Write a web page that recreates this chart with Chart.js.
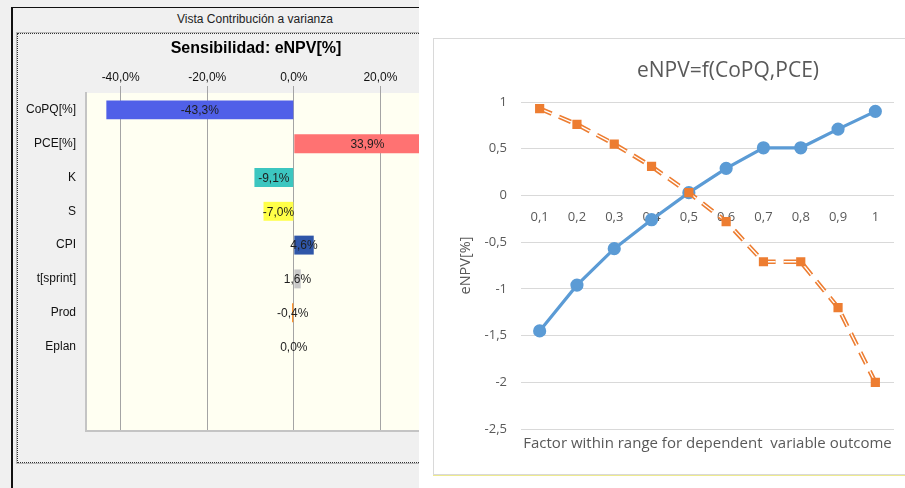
<!DOCTYPE html>
<html lang="es">
<head>
<meta charset="utf-8">
<title>Sensibilidad eNPV</title>
<script src="https://cdn.jsdelivr.net/npm/chart.js@4.4.1/dist/chart.umd.min.js"></script>
<style>
    html, body { margin: 0; padding: 0; background: #fff; }
    .page { position: relative; width: 905px; height: 488px; overflow: hidden; }

    /* Panneau gauche : capture de la fenêtre "Vista Contribución a varianza" */
    .panel-left { position: absolute; left: 0; top: 0; width: 419px; height: 488px; background: #f0f0f0; overflow: hidden; }
    .win-frame { position: absolute; left: 11px; top: 7px; width: 500px; height: 500px; border-left: 2px solid #111; border-top: 1px solid #111; }
    .dotted-frame { position: absolute; left: 17px; top: 33px; width: 500px; height: 428px; border: 1px dotted #333; box-shadow: 0 0 0 1px #b8b8b8; }
    .win-title { position: absolute; left: 0; width: 510px; top: 12px; text-align: center; font: 12px "Liberation Sans", Arial, sans-serif; color: #222; }
    .sens-title { position: absolute; left: 0; width: 512px; top: 39px; line-height: 18px; text-align: center; font: bold 16px "Liberation Sans", Arial, sans-serif; color: #000; }
    #tornadoChart { position: absolute; left: 0; top: 0; }

    /* Panneau droit : graphique Excel */
    .panel-right { position: absolute; left: 433px; top: 38px; width: 480px; height: 435px; background: #fff; border: 1px solid #d9d9d9; }
    .panel-right-line { position: absolute; left: 433px; top: 475px; width: 472px; height: 1px; background: #eeea90; }
    .line-title { position: absolute; left: 0; width: 588px; top: 16px; line-height: 26px; text-align: center; font: 21px "Open Sans", sans-serif; color: #595959; }
    #lineChart { position: absolute; left: 0; top: 0; }
</style>
</head>
<body>
<div class="page">
    <div class="panel-left">
        <div class="win-frame"></div>
        <div class="dotted-frame"></div>
        <div class="win-title">Vista Contribución a varianza</div>
        <canvas id="tornadoChart" width="520" height="488"></canvas>
        <div class="sens-title">Sensibilidad: eNPV[%]</div>
    </div>
    <div class="panel-right">
        <canvas id="lineChart" width="471" height="435"></canvas>
        <div class="line-title">eNPV=f(CoPQ,PCE)</div>
    </div>
    <div class="panel-right-line"></div>
</div>

<script>
// ==== DONNÉES ====

// Tornado "Sensibilidad: eNPV[%]"
const tornadoLabels = ['CoPQ[%]', 'PCE[%]', 'K', 'S', 'CPI', 't[sprint]', 'Prod', 'Eplan', '', ''];
const tornadoValues = [-43.3, 33.9, -9.1, -7.0, 4.6, 1.6, -0.4, 0.0, null, null];
const tornadoTicks = [-40, -20, 0, 20, 40];

// Courbes eNPV=f(CoPQ,PCE)
const factorLabels = ['0,1', '0,2', '0,3', '0,4', '0,5', '0,6', '0,7', '0,8', '0,9', '1'];
const copqValues = [-1.45, -0.96, -0.57, -0.26, 0.03, 0.29, 0.51, 0.51, 0.71, 0.90];
const pceValues = [0.93, 0.76, 0.55, 0.31, 0.03, -0.28, -0.71, -0.71, -1.20, -2.00];

// ==== FONCTIONS ====

function formatPct(v) {
    return v.toFixed(1).replace('.', ',') + '%';
}

// Fond de la zone de tracé (+ bordure basse optionnelle)
const plotBackground = {
    id: 'plotBackground',
    beforeDraw(chart, args, opts) {
        const { ctx, chartArea: a } = chart;
        ctx.save();
        ctx.fillStyle = opts.color;
        ctx.fillRect(a.left, a.top, a.right - a.left, a.bottom - a.top);
        ctx.restore();
    },
    beforeDatasetsDraw(chart, args, opts) {
        if (!opts.bottomLine) return;
        const { ctx, chartArea: a } = chart;
        ctx.save();
        ctx.strokeStyle = opts.bottomLine;
        ctx.lineWidth = 2;
        ctx.beginPath();
        ctx.moveTo(a.left - 1, a.bottom);
        ctx.lineTo(a.right, a.bottom);
        ctx.stroke();
        ctx.restore();
    }
};

// Étiquettes au centre de chaque barre
const barLabels = {
    id: 'barLabels',
    afterDatasetsDraw(chart) {
        const { ctx } = chart;
        const meta = chart.getDatasetMeta(0);
        ctx.save();
        ctx.font = '12px "Liberation Sans", Arial, sans-serif';
        ctx.fillStyle = '#1e1e1e';
        ctx.textAlign = 'center';
        ctx.textBaseline = 'middle';
        meta.data.forEach((bar, i) => {
            const v = tornadoValues[i];
            if (v === null) return;
            const { x, y, base } = bar.getProps(['x', 'y', 'base'], true);
            ctx.fillText(formatPct(v), (x + base) / 2, y + 1);
        });
        ctx.restore();
    }
};

function initTornadoChart() {
    const barColors = ['#5060e8', '#ff7272', '#3cc6c0', '#ffff48', '#2f56a8', '#c8c8c8', '#ff8a1c', '#888888', '#ffffff', '#ffffff'];
    const tickFont = { family: '"Liberation Sans", Arial, sans-serif', size: 12 };

    new Chart(document.getElementById('tornadoChart'), {
        type: 'bar',
        data: {
            labels: tornadoLabels,
            datasets: [{
                data: tornadoValues,
                backgroundColor: barColors,
                borderWidth: 0,
                barPercentage: 0.56,
                categoryPercentage: 1
            }]
        },
        options: {
            indexAxis: 'y',
            responsive: false,
            animation: false,
            events: [],
            layout: { padding: { top: 60, right: 53, bottom: 57, left: 0 } },
            plugins: {
                legend: { display: false },
                tooltip: { enabled: false },
                plotBackground: { color: '#fffff2', bottomLine: '#c4c4c4' }
            },
            scales: {
                x: {
                    type: 'linear',
                    position: 'top',
                    min: -48,
                    max: 40,
                    afterBuildTicks: s => { s.ticks = tornadoTicks.map(v => ({ value: v })); },
                    afterFit: s => { s.height = 33; },
                    ticks: { callback: v => formatPct(v), font: tickFont, color: '#111', padding: 1, maxRotation: 0 },
                    grid: { color: '#a4a4a4', lineWidth: 1, tickLength: 7 },
                    border: { display: false }
                },
                y: {
                    type: 'category',
                    afterFit: s => { s.width = 86; },
                    ticks: { font: tickFont, color: '#111', padding: 10 },
                    grid: { display: false, drawTicks: false },
                    border: { display: true, color: '#c4c4c4', width: 2 }
                }
            }
        },
        plugins: [plotBackground, barLabels]
    });
}

function initLineChart() {
    const blue = '#5b9bd5';
    const orange = '#ed7d31';
    const grey = '#595959';
    const family = '"Open Sans", sans-serif';
    const dash = [13, 8];

    new Chart(document.getElementById('lineChart'), {
        type: 'line',
        data: {
            labels: factorLabels,
            datasets: [
                {
                    label: 'CoPQ',
                    data: copqValues,
                    borderColor: blue,
                    backgroundColor: blue,
                    borderWidth: 3.2,
                    pointRadius: 5,
                    pointStyle: 'circle',
                    order: 4
                },
                {
                    // trait double tireté : trait orange large...
                    label: 'PCE',
                    data: pceValues,
                    borderColor: orange,
                    borderWidth: 4.5,
                    borderDash: dash,
                    pointRadius: 0,
                    order: 3
                },
                {
                    // ...évidé par un trait blanc fin
                    label: 'PCE (intérieur)',
                    data: pceValues,
                    borderColor: '#ffffff',
                    borderWidth: 1.3,
                    borderDash: dash,
                    pointRadius: 0,
                    order: 2
                },
                {
                    label: 'PCE (marqueurs)',
                    data: pceValues,
                    showLine: false,
                    pointStyle: 'rect',
                    pointRadius: 6.5,
                    backgroundColor: orange,
                    borderColor: orange,
                    borderWidth: 0,
                    order: 1
                }
            ]
        },
        options: {
            responsive: false,
            animation: false,
            events: [],
            layout: { padding: { top: 63, right: 11, bottom: 0, left: 0 } },
            plugins: {
                legend: { display: false },
                tooltip: { enabled: false }
            },
            scales: {
                x: {
                    type: 'category',
                    position: { y: 0 },
                    offset: true,
                    ticks: { font: { family, size: 13 }, color: grey, padding: 14, maxRotation: 0, autoSkip: false },
                    grid: { display: false, drawTicks: false },
                    border: { display: false }
                },
                x2: {
                    type: 'category',
                    labels: factorLabels,
                    position: 'bottom',
                    afterFit: s => { s.height = 45; },
                    ticks: { display: false },
                    grid: { display: false, drawTicks: false },
                    border: { display: false },
                    title: {
                        display: true,
                        text: 'Factor within range for dependent  variable outcome',
                        font: { family, size: 15 },
                        color: grey,
                        padding: { top: 4, bottom: 21 }
                    }
                },
                y: {
                    min: -2.5,
                    max: 1,
                    afterFit: s => { s.width = 87; },
                    ticks: { stepSize: 0.5, font: { family, size: 13 }, color: grey, padding: 14, callback: v => String(v).replace('.', ',') },
                    grid: { color: '#d9d9d9', lineWidth: 1, drawTicks: false },
                    border: { display: false },
                    title: {
                        display: true,
                        text: 'eNPV[%]',
                        font: { family, size: 14.5 },
                        color: grey,
                        padding: { top: 23, bottom: 0 }
                    }
                }
            }
        }
    });
}

// ==== INITIALISATION ====
initTornadoChart();
initLineChart();
</script>
</body>
</html>
